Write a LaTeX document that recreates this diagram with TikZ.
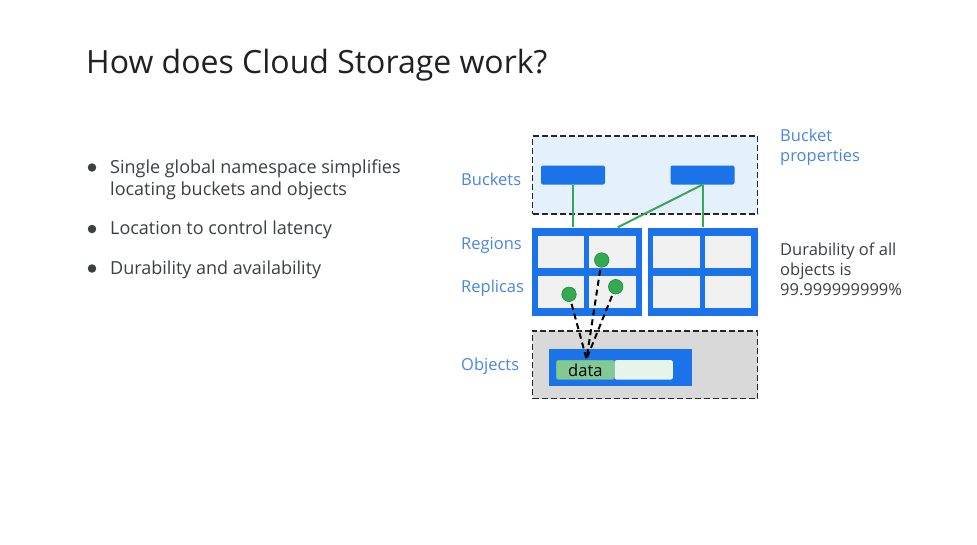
\documentclass[tikz,border=0pt]{standalone}
\usepackage{fontspec}
\setmainfont{Open Sans}
\setsansfont{Open Sans}
\definecolor{gblue}{HTML}{1A73E8}
\definecolor{lblue}{HTML}{4A86E0}
\definecolor{paleblue}{HTML}{E4F0FB}
\definecolor{graybox}{HTML}{D9D9D9}
\definecolor{cellgray}{HTML}{F1F1F1}
\definecolor{ggreen}{HTML}{34A853}
\definecolor{dgreen}{HTML}{1E8E3E}
\definecolor{datagreen}{HTML}{81C995}
\definecolor{palegreen}{HTML}{E6F4EA}
\definecolor{txt}{HTML}{3C4043}
\definecolor{ttl}{HTML}{202124}
\tikzset{
  area/.style={draw=black!85, line width=1.6pt, dash pattern=on 6pt off 3pt, anchor=north west, inner sep=0pt},
  bucketbar/.style={fill=gblue, rounded corners=2pt, minimum width=64pt, minimum height=19pt, inner sep=0pt},
  region/.style={fill=gblue, anchor=north west, inner sep=0pt, minimum width=110pt, minimum height=88pt},
  cell/.style={fill=cellgray, anchor=north west, inner sep=0pt, minimum width=46.5pt, minimum height=32pt},
  dot/.style={circle, fill=ggreen, draw=dgreen, line width=0.6pt, minimum size=14.5pt, inner sep=0pt},
  link/.style={draw=ggreen, line width=2pt},
  repl/.style={draw=black, line width=2pt, dash pattern=on 6pt off 4pt},
  lbl/.style={text=lblue, font=\fontsize{16.5}{20}\selectfont, anchor=base west, inner sep=0pt},
  note/.style={text=txt, font=\fontsize{16.5}{20}\selectfont, anchor=base west, inner sep=0pt},
  bullet/.style={text=txt, font=\fontsize{18}{21}\selectfont, anchor=base west, inner sep=0pt},
  bdot/.style={circle, fill=txt, minimum size=8.5pt, inner sep=0pt}
}
\begin{document}
\begin{tikzpicture}[x=1pt,y=-1pt]
\useasboundingbox[fill=white] (0,0) rectangle (977,544);
% title
\node[text=ttl, font=\fontsize{32}{38}\selectfont, anchor=base west, inner sep=0pt] (title) at (86,73.5) {How does Cloud Storage work?};
% bullets
\node[bdot] (b1) at (92,167.5) {};
\node[bullet] (t1) at (110,173.3) {Single global namespace simplifies};
\node[bullet] (t1b) at (110,195) {locating buckets and objects};
\node[bdot] (b2) at (92,229) {};
\node[bullet] (t2) at (110,234) {Location to control latency};
\node[bdot] (b3) at (92,268.5) {};
\node[bullet] (t3) at (110,274) {Durability and availability};
% bucket area
\node[area, fill=paleblue, minimum width=225pt, minimum height=78pt] (barea) at (531.7,135) {};
\node[bucketbar] (bk1) at (573,175) {};
\node[bucketbar] (bk2) at (702.5,175) {};
% regions
\node[region] (r1) at (531.7,227.3) {};
\node[region] (r2) at (647.3,227.3) {};
\node[cell] (c11) at (537.7,236) {};
\node[cell] (c12) at (589,236) {};
\node[cell] (c13) at (537.7,275.7) {};
\node[cell] (c14) at (589,275.7) {};
\node[cell] (c21) at (653,236) {};
\node[cell] (c22) at (704.7,236) {};
\node[cell] (c23) at (653,275.7) {};
\node[cell] (c24) at (704.7,275.7) {};
% links
\coordinate (r1a) at (573,227.3);
\coordinate (r1b) at (617.7,227.3);
\coordinate (r2a) at (702.5,227.3);
\draw[link] (bk1.south) -- (r1a);
\draw[link] (bk2.south) -- (r1b);
\draw[link] (bk2.south) -- (r2a);
% objects area
\node[area, fill=graybox, minimum width=225pt, minimum height=67.7pt] (oarea) at (531.7,330) {};
\node[fill=gblue, anchor=north west, inner sep=0pt, minimum width=142.7pt, minimum height=37.4pt] (obar) at (549,348.3) {};
\node[fill=datagreen, draw=datagreen!80!black, line width=0.4pt, rounded corners=2pt, anchor=north west, inner sep=0pt, minimum width=58.3pt, minimum height=19.3pt, font=\fontsize{16.5}{20}\selectfont, text=black] (data) at (556,360) {data};
\node[fill=palegreen, rounded corners=2pt, anchor=north west, inner sep=0pt, minimum width=58.4pt, minimum height=19.3pt] (empty) at (614.3,360) {};
% replicas
\coordinate (dtop) at (586.5,359);
\draw[repl] (569,294.3) -- (dtop);
\draw[repl] (601.7,260) -- (dtop);
\draw[repl] (615.7,286.7) -- (dtop);
\node[dot] (d1) at (601.7,260) {};
\node[dot] (d2) at (615.7,286.7) {};
\node[dot] (d3) at (569,294.3) {};
% labels
\node[lbl] (lb1) at (461,185.5) {Buckets};
\node[lbl] (lb2) at (461,249) {Regions};
\node[lbl] (lb3) at (461,292.5) {Replicas};
\node[lbl] (lb4) at (461,370) {Objects};
\node[note, text=lblue] (bp1) at (780,141.7) {Bucket};
\node[note, text=lblue] (bp2) at (780,161.7) {properties};
\node[note] (dur1) at (780,255) {Durability of all};
\node[note] (dur2) at (780,275) {objects is};
\node[note] (dur3) at (780,295) {99.999999999\%};
\end{tikzpicture}
\end{document}
